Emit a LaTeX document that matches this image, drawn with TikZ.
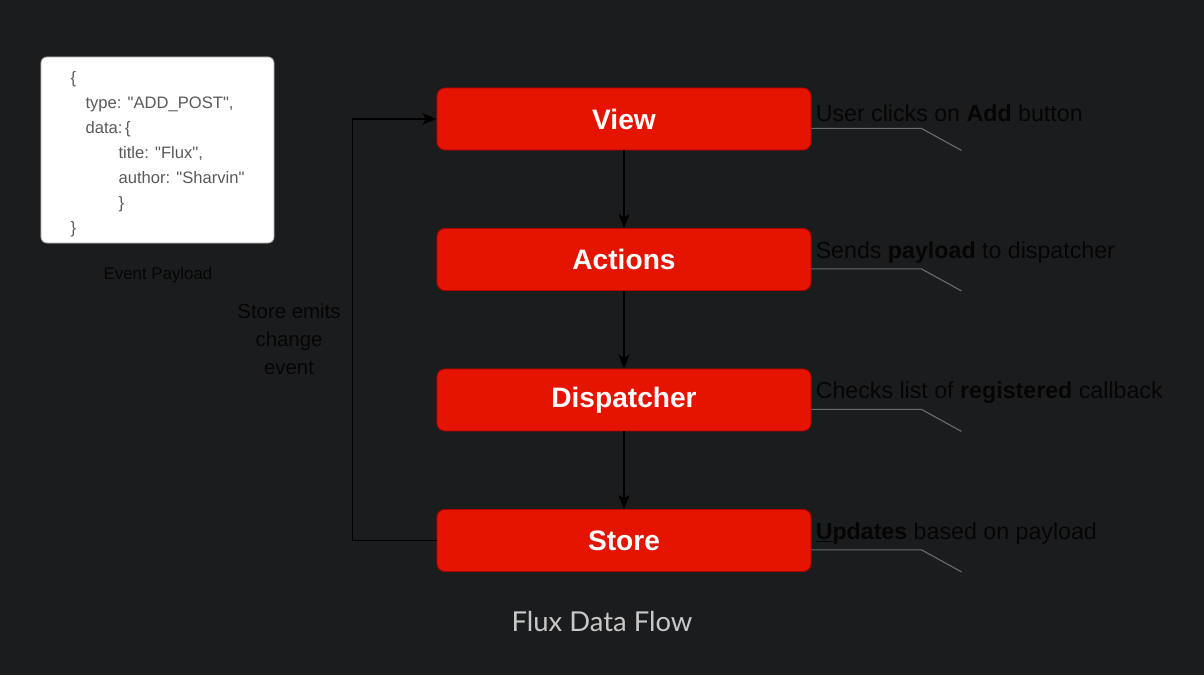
\documentclass[tikz,border=0pt]{standalone}
\usepackage{fontspec}
\setmainfont{Liberation Sans}
\newfontfamily\latofont{Lato}
\usepackage{xcolor}
\usepackage{tikz}
\usetikzlibrary{positioning}
\usetikzlibrary{calc}
\usetikzlibrary{arrows.meta}

\definecolor{bgcol}{HTML}{1B1C1E}
\definecolor{fluxred}{HTML}{E51400}
\definecolor{fluxedge}{HTML}{B20000}
\definecolor{leadgray}{HTML}{6B6B6B}
\definecolor{codegray}{HTML}{5A5A5A}
\definecolor{captiongray}{HTML}{C8C8C8}
\definecolor{inktext}{HTML}{050505}

\tikzset{
  fluxbox/.style={draw=fluxedge,fill=fluxred,rounded corners=0.2cm,line width=0.6pt,
    minimum width=9.35cm,minimum height=1.55cm,inner sep=0pt,
    text=white,font=\fontsize{20}{24}\selectfont\bfseries},
  flow/.style={draw=black,line width=0.9pt,-{Stealth[length=10pt,width=8pt,inset=2.5pt]}},
  callout/.style={draw=leadgray,line width=0.8pt},
  note/.style={text=inktext,inner sep=0pt,anchor=west,font=\fontsize{16.5}{19}\selectfont},
  payload/.style={draw=gray!70,fill=white,rounded corners=0.15cm,line width=0.6pt,
    minimum width=5.825cm,minimum height=4.65cm},
  codetext/.style={align=left,text=codegray,inner sep=0pt,font=\fontsize{11.8}{17.8}\selectfont},
}

\begin{document}
\begin{tikzpicture}[x=0.025cm,y=-0.025cm]
\useasboundingbox[fill=bgcol] (0,0) rectangle (1204,675);

\node[fluxbox] (view) at (624,119) {View};
\node[fluxbox,below=1.94cm of view] (actions) {Actions};
\node[fluxbox,below=1.94cm of actions] (dispatcher) {Dispatcher};
\node[fluxbox,below=1.94cm of dispatcher] (store) {Store};

\draw[flow] (view) -- (actions);
\draw[flow] (actions) -- (dispatcher);
\draw[flow] (dispatcher) -- (store);
\draw[flow] (store.west) -- ++(-84,0) |- (view.west);

\node[text=inktext,align=center,font=\fontsize{14.5}{19.9}\selectfont] (emits) at (289,339)
  {Store emits\\change\\event};

% leader lines
\foreach \b in {view,actions,dispatcher,store}{
  \coordinate (\b-bend) at ($(\b.south east)+(110,-22)$);
  \coordinate (\b-end) at ($(\b.south east)+(150,0)$);
  \draw[callout] (\b.east |- \b-bend) -- (\b-bend) -- (\b-end);
}

\node[note] (viewnote) at ($(view.east)+(4,-6)$) {User clicks on \textbf{Add} button};
\node[note] (actionsnote) at ($(actions.east)+(4,-7)$) {Sends \textbf{payload} to dispatcher};
\node[note] (dispatchernote) at ($(dispatcher.east)+(4,-7)$) {Checks list of \textbf{registered} callback};
\node[note] (storenote) at ($(store.east)+(4,-7)$) {\underline{\textbf{U}}\textbf{pdates} based on payload};

\node[payload] (payloadbox) at (157.5,150) {};
\node[codetext] (code) at ($(payloadbox.center)+(0,4)$) {%
\{\\
\hspace*{0.375cm}type: \textquotedbl ADD\_POST\textquotedbl,\\
\hspace*{0.375cm}data:\,\{\\
\hspace*{1.2cm}title: \textquotedbl Flux\textquotedbl,\\
\hspace*{1.2cm}author: \textquotedbl Sharvin\textquotedbl\\
\hspace*{1.2cm}\}\\
\}};
\node[text=inktext,font=\fontsize{12}{14}\selectfont] (payloadlabel) at (158,275) {Event Payload};

\node[text=captiongray,font=\latofont\fontsize{19.5}{23}\selectfont] (caption) at (602,622) {Flux Data Flow};
\end{tikzpicture}
\end{document}
